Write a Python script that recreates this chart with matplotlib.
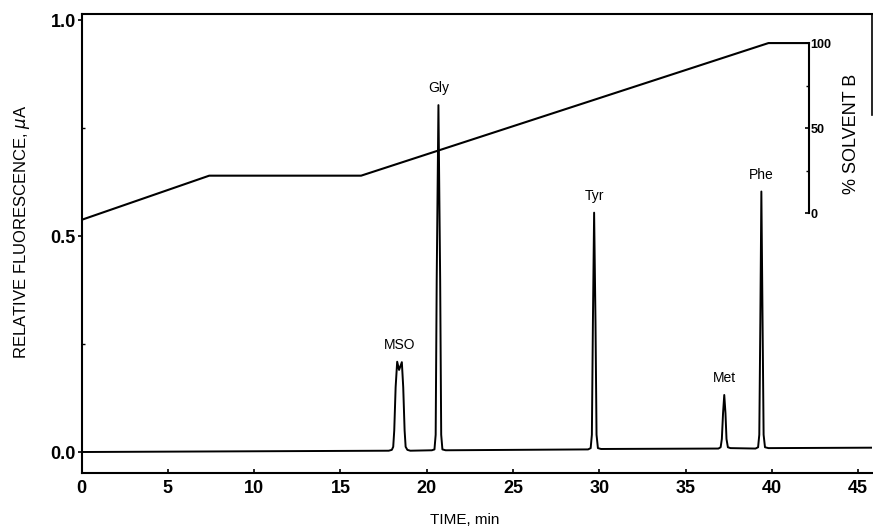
import matplotlib
matplotlib.use("Agg")
import matplotlib.pyplot as plt
from matplotlib.ticker import FixedLocator

# chromatogram trace (time in min, relative fluorescence in uA)
trace_time = [0.0, 17.8, 17.98, 18.06, 18.12, 18.2, 18.29, 18.4, 18.56, 18.64, 18.72, 18.78, 18.88, 19.05,
              20.3, 20.45, 20.52, 20.58, 20.68, 20.78, 20.84, 20.91, 21.1,
              29.35, 29.5, 29.57, 29.63, 29.7, 29.78, 29.84, 29.92, 30.1,
              36.9, 37.03, 37.1, 37.17, 37.24, 37.31, 37.37, 37.45, 37.6,
              39.05, 39.2, 39.27, 39.33, 39.39, 39.46, 39.52, 39.6, 39.8,
              45.8]
trace_signal = [0.0, 0.003, 0.005, 0.012, 0.05, 0.15, 0.209, 0.19, 0.208, 0.15, 0.05, 0.012, 0.005, 0.003,
                0.004, 0.006, 0.04, 0.4, 0.803, 0.4, 0.04, 0.006, 0.004,
                0.006, 0.009, 0.04, 0.3, 0.554, 0.3, 0.04, 0.009, 0.007,
                0.008, 0.011, 0.03, 0.09, 0.132, 0.09, 0.03, 0.011, 0.009,
                0.008, 0.011, 0.04, 0.3, 0.603, 0.3, 0.04, 0.011, 0.009,
                0.01]

# peak labels
peak_names = ["MSO", "Gly", "Tyr", "Met", "Phe"]
peak_times = [18.42, 20.68, 29.7, 37.24, 39.39]
peak_heights = [0.209, 0.803, 0.554, 0.132, 0.603]

# solvent gradient (% B)
grad_time = [0.0, 7.4, 16.2, 39.8, 42.15]
grad_b = [-4, 22, 22, 100, 100]

x_ticks = [0, 5, 10, 15, 20, 25, 30, 35, 40, 45]
y_ticks = [0.0, 0.5, 1.0]
b_ticks = [0, 50, 100]

plt.rcParams['font.family'] = ['Liberation Sans', 'DejaVu Sans']
tick_font = ['Liberation Sans Narrow', 'Liberation Sans', 'DejaVu Sans']

fig = plt.figure(figsize=(8.73, 5.30), dpi=100)
ax = fig.add_axes([81.5 / 873, 1 - 473 / 530, 790.5 / 873, 459 / 530])

ax.plot(trace_time, trace_signal, color="black", lw=1.4, solid_joinstyle="round")
ax.set_xlim(0, 45.8)
ax.set_ylim(-0.0486, 1.0139)

for s in ["left", "bottom", "top"]:
    ax.spines[s].set_linewidth(1.5)
ax.spines["right"].set_linewidth(1.2)
ax.spines["right"].set_bounds(0.78, 1.0139)

ax.set_xticks(x_ticks)
ax.set_xticklabels([str(v) for v in x_ticks])
ax.set_yticks(y_ticks)
ax.set_yticklabels(["%.1f" % v for v in y_ticks])
ax.yaxis.set_minor_locator(FixedLocator([0.25, 0.75]))
ax.tick_params(axis="x", direction="in", length=3, width=1.2, pad=5)
ax.tick_params(axis="y", which="major", direction="out", length=3, width=1.2, pad=1)
ax.tick_params(axis="y", which="minor", direction="in", length=2, width=1.0)
for lab in ax.get_xticklabels() + ax.get_yticklabels():
    lab.set_fontfamily(tick_font)
    lab.set_fontweight("bold")
    lab.set_fontsize(13)

for name, t, h in zip(peak_names, peak_times, peak_heights):
    ax.annotate(name, (t, h), xytext=(0, 12), textcoords="offset points",
                ha="center", va="center", fontsize=10)

# % solvent B axis sitting inside the plot
ax2 = ax.twinx()
ax2.plot(grad_time, grad_b, color="black", lw=1.5)
ax2.set_ylim(-152.9, 117.1)
for s in ["left", "bottom", "top"]:
    ax2.spines[s].set_visible(False)
ax2.spines["right"].set_position(("data", 42.15))
ax2.spines["right"].set_bounds(0, 100)
ax2.spines["right"].set_linewidth(1.5)
ax2.set_yticks(b_ticks)
ax2.set_yticklabels([str(v) for v in b_ticks])
ax2.yaxis.set_minor_locator(FixedLocator([25, 75]))
ax2.tick_params(axis="y", which="major", direction="in", length=3, width=1.2, pad=1)
ax2.tick_params(axis="y", which="minor", direction="in", length=2, width=1.0)
for lab in ax2.get_yticklabels():
    lab.set_fontweight("bold")
    lab.set_fontsize(9)

fig.text(22 / 873, 1 - 232 / 530, r"RELATIVE FLUORESCENCE, $\mu$A", rotation=90,
         ha="center", va="center", fontsize=12)
fig.text(465 / 873, 1 - 520 / 530, "TIME, min", ha="center", va="center", fontsize=11)
fig.text(852 / 873, 1 - 134 / 530, "% SOLVENT B", rotation=90,
         ha="center", va="center", fontsize=13)

fig.savefig("out.png", dpi=100)
